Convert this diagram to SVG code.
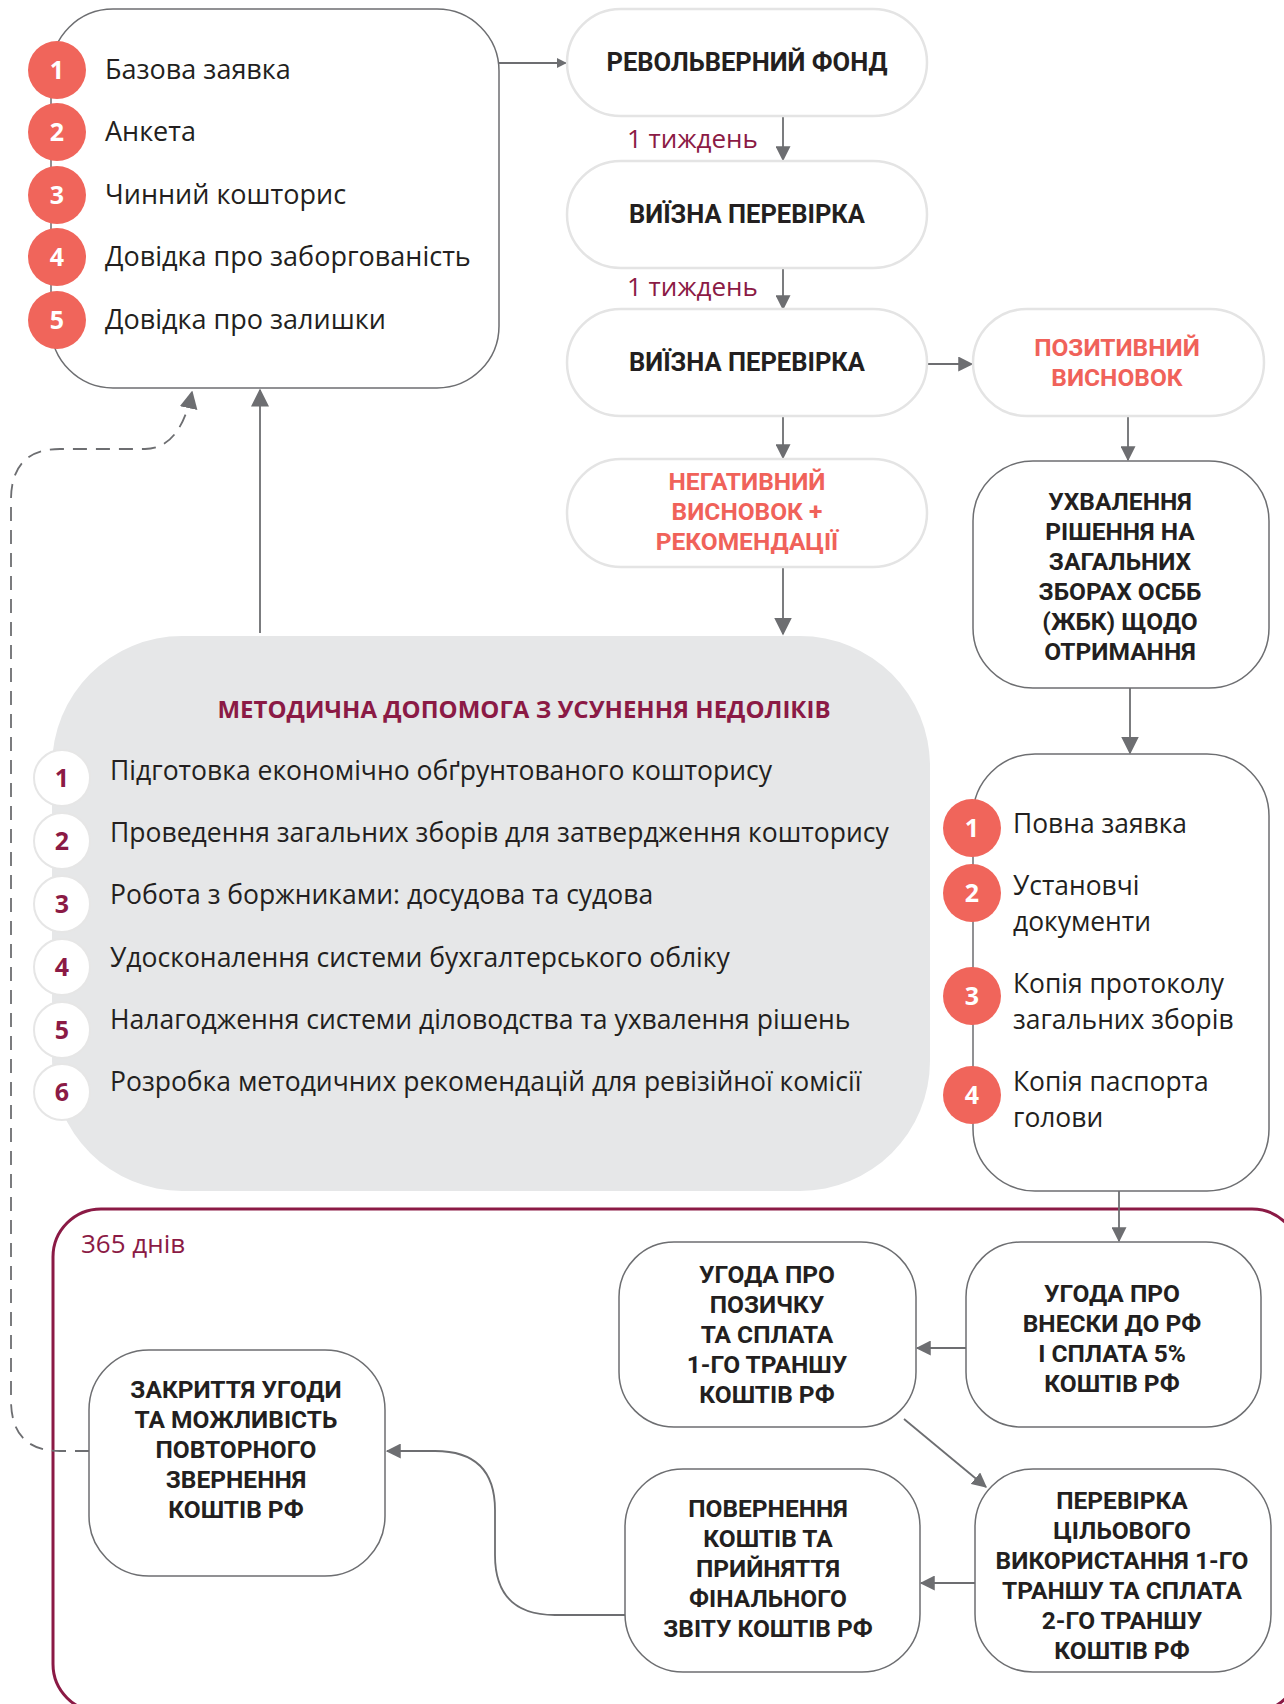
<svg xmlns="http://www.w3.org/2000/svg" width="1284" height="1704" viewBox="0 0 1284 1704">
<defs>
<style>
text{font-family:"Open Sans","Noto Sans",sans-serif;}
.box{fill:#fff;stroke:#6d6e71;stroke-width:1.5;}
.pill{fill:#fff;stroke:#e4e4e4;stroke-width:2.5;}
.bt{font-family:Roboto,"Open Sans",sans-serif;font-size:24.5px;font-weight:700;fill:#231f20;text-anchor:middle;}
.pt{font-family:Roboto,"Open Sans",sans-serif;font-size:25.5px;font-weight:700;fill:#231f20;text-anchor:middle;}
.ct{font-family:Roboto,"Open Sans",sans-serif;font-size:24.5px;font-weight:700;fill:#f0625a;text-anchor:middle;}
.rt{font-size:27px;fill:#231f20;}
.rt2{font-size:26.4px;fill:#231f20;}
.mt{font-size:26.5px;fill:#231f20;}
.red{fill:#f0655b;}
.num{font-size:25px;font-weight:700;fill:#fff;text-anchor:middle;}
.wc{fill:#fff;stroke:#e6e6e6;stroke-width:2;}
.mnum{font-size:25px;font-weight:700;fill:#8b1a45;text-anchor:middle;}
.lbl{font-size:26px;fill:#8b1a45;}
.con{fill:none;stroke:#6d6e71;stroke-width:1.8;}
</style>
<marker id="ah" viewBox="0 0 12 12" refX="11" refY="6" markerWidth="15" markerHeight="15" markerUnits="userSpaceOnUse" orient="auto"><path d="M0,0 L12,6 L0,12 z" fill="#6d6e71"/></marker>
<marker id="ahs" viewBox="0 0 12 12" refX="11" refY="6" markerWidth="10" markerHeight="10" markerUnits="userSpaceOnUse" orient="auto"><path d="M0,0 L12,6 L0,12 z" fill="#6d6e71"/></marker>
<marker id="ahl" viewBox="0 0 12 12" refX="11" refY="6" markerWidth="18" markerHeight="18" markerUnits="userSpaceOnUse" orient="auto"><path d="M0,0 L12,6 L0,12 z" fill="#6d6e71"/></marker>
</defs>
<rect width="1284" height="1704" fill="#fff"/>

<g id="container365">
<rect x="53" y="1209" width="1247" height="503" rx="48" fill="none" stroke="#8b1a45" stroke-width="3"/>
<text class="lbl" x="81" y="1253">365 днів</text>
</g>

<g id="connectors">
<path class="con" d="M499 63 H566" marker-end="url(#ahs)"/>
<path class="con" d="M783 116 V160" marker-end="url(#ah)"/>
<path class="con" d="M783 268 V309" marker-end="url(#ah)"/>
<path class="con" d="M927 364 H972" marker-end="url(#ah)"/>
<path class="con" d="M783 416 V458" marker-end="url(#ah)"/>
<path class="con" d="M1128 416 V460" marker-end="url(#ah)"/>
<path class="con" d="M783 567 V634" marker-end="url(#ahl)"/>
<path class="con" d="M1130 688 V753" marker-end="url(#ahl)"/>
<path class="con" d="M260 633 V390" marker-end="url(#ahl)"/>
<path class="con" d="M89 1451 H60 Q11 1451 11 1400 V500 Q11 449 60 449 H145 Q180 449 192 392" stroke-dasharray="14 9" marker-end="url(#ahl)"/>
<path class="con" d="M1119 1191 V1241" marker-end="url(#ah)"/>
<path class="con" d="M966 1348 H917" marker-end="url(#ah)"/>
<path class="con" d="M904 1419 L986 1487" marker-end="url(#ah)"/>
<path class="con" d="M975 1583 H921" marker-end="url(#ah)"/>
<path class="con" d="M625 1615 H555 Q495 1615 495 1555 V1510 Q495 1451 435 1451 H387" marker-end="url(#ah)"/>
<text class="lbl" x="627" y="148">1 тиждень</text>
<text class="lbl" x="627" y="296">1 тиждень</text>
</g>

<g id="base-application">
<rect class="box" x="51" y="9" width="448" height="379" rx="62"/>
<circle class="red" cx="57" cy="70" r="29"/><text class="num" x="57" y="79">1</text>
<circle class="red" cx="57" cy="132" r="29"/><text class="num" x="57" y="141">2</text>
<circle class="red" cx="57" cy="195" r="29"/><text class="num" x="57" y="204">3</text>
<circle class="red" cx="57" cy="257" r="29"/><text class="num" x="57" y="266">4</text>
<circle class="red" cx="57" cy="320" r="29"/><text class="num" x="57" y="329">5</text>
<text class="rt" x="105" y="79">Базова заявка</text>
<text class="rt" x="105" y="141">Анкета</text>
<text class="rt" x="105" y="204">Чинний кошторис</text>
<text class="rt" x="105" y="266">Довідка про заборгованість</text>
<text class="rt" x="105" y="329">Довідка про залишки</text>
</g>

<g id="revolving-fund">
<rect class="pill" x="567" y="9" width="360" height="107" rx="53.5"/>
<text class="pt" x="747" y="71">РЕВОЛЬВЕРНИЙ ФОНД</text>
</g>

<g id="site-check-1">
<rect class="pill" x="567" y="161" width="360" height="107" rx="53.5"/>
<text class="pt" x="747" y="223">ВИЇЗНА ПЕРЕВІРКА</text>
</g>

<g id="site-check-2">
<rect class="pill" x="567" y="309" width="360" height="107" rx="53.5"/>
<text class="pt" x="747" y="371">ВИЇЗНА ПЕРЕВІРКА</text>
</g>

<g id="positive">
<rect class="pill" x="973" y="309" width="291" height="107" rx="53.5"/>
<text class="ct" x="1117" y="356">ПОЗИТИВНИЙ</text>
<text class="ct" x="1117" y="386">ВИСНОВОК</text>
</g>

<g id="negative">
<rect class="pill" x="567" y="459" width="360" height="108" rx="54"/>
<text class="ct" x="747" y="490">НЕГАТИВНИЙ</text>
<text class="ct" x="747" y="520">ВИСНОВОК +</text>
<text class="ct" x="747" y="550">РЕКОМЕНДАЦІЇ</text>
</g>

<g id="decision">
<rect class="box" x="973" y="461" width="296" height="227" rx="60"/>
<text class="bt" x="1120" y="510">УХВАЛЕННЯ</text>
<text class="bt" x="1120" y="540">РІШЕННЯ НА</text>
<text class="bt" x="1120" y="570">ЗАГАЛЬНИХ</text>
<text class="bt" x="1120" y="600">ЗБОРАХ ОСББ</text>
<text class="bt" x="1120" y="630">(ЖБК) ЩОДО</text>
<text class="bt" x="1120" y="660">ОТРИМАННЯ</text>
</g>

<g id="methodical-help">
<rect x="52" y="636" width="878" height="555" rx="130" fill="#e6e7e8"/>
<text x="524" y="718" font-size="24" font-weight="700" fill="#8b1a45" text-anchor="middle">МЕТОДИЧНА ДОПОМОГА З УСУНЕННЯ НЕДОЛІКІВ</text>
<circle class="wc" cx="62" cy="778" r="28"/><text class="mnum" x="62" y="787">1</text>
<circle class="wc" cx="62" cy="841" r="28"/><text class="mnum" x="62" y="850">2</text>
<circle class="wc" cx="62" cy="904" r="28"/><text class="mnum" x="62" y="913">3</text>
<circle class="wc" cx="62" cy="967" r="28"/><text class="mnum" x="62" y="976">4</text>
<circle class="wc" cx="62" cy="1030" r="28"/><text class="mnum" x="62" y="1039">5</text>
<circle class="wc" cx="62" cy="1092" r="28"/><text class="mnum" x="62" y="1101">6</text>
<text class="mt" x="110" y="780">Підготовка економічно обґрунтованого кошторису</text>
<text class="mt" x="110" y="842">Проведення загальних зборів для затвердження кошторису</text>
<text class="mt" x="110" y="904">Робота з боржниками: досудова та судова</text>
<text class="mt" x="110" y="967">Удосконалення системи бухгалтерського обліку</text>
<text class="mt" x="110" y="1029">Налагодження системи діловодства та ухвалення рішень</text>
<text class="mt" x="110" y="1091">Розробка методичних рекомендацій для ревізійної комісії</text>
</g>

<g id="full-application">
<rect class="box" x="973" y="754" width="296" height="437" rx="62"/>
<circle class="red" cx="972" cy="828" r="29"/><text class="num" x="972" y="837">1</text>
<circle class="red" cx="972" cy="893" r="29"/><text class="num" x="972" y="902">2</text>
<circle class="red" cx="972" cy="996" r="29"/><text class="num" x="972" y="1005">3</text>
<circle class="red" cx="972" cy="1095" r="29"/><text class="num" x="972" y="1104">4</text>
<text class="rt2" x="1013" y="833">Повна заявка</text>
<text class="rt2" x="1013" y="895">Установчі</text>
<text class="rt2" x="1013" y="931">документи</text>
<text class="rt2" x="1013" y="993">Копія протоколу</text>
<text class="rt2" x="1013" y="1029">загальних зборів</text>
<text class="rt2" x="1013" y="1091">Копія паспорта</text>
<text class="rt2" x="1013" y="1127">голови</text>
</g>

<g id="contribution-agreement">
<rect class="box" x="966" y="1242" width="295" height="185" rx="55"/>
<text class="bt" x="1112" y="1302">УГОДА ПРО</text>
<text class="bt" x="1112" y="1332">ВНЕСКИ ДО РФ</text>
<text class="bt" x="1112" y="1362">І СПЛАТА 5%</text>
<text class="bt" x="1112" y="1392">КОШТІВ РФ</text>
</g>

<g id="loan-agreement">
<rect class="box" x="619" y="1242" width="297" height="185" rx="55"/>
<text class="bt" x="767" y="1283">УГОДА ПРО</text>
<text class="bt" x="767" y="1313">ПОЗИЧКУ</text>
<text class="bt" x="767" y="1343">ТА СПЛАТА</text>
<text class="bt" x="767" y="1373">1-ГО ТРАНШУ</text>
<text class="bt" x="767" y="1403">КОШТІВ РФ</text>
</g>

<g id="target-use-check">
<rect class="box" x="975" y="1469" width="296" height="203" rx="58"/>
<text class="bt" x="1122" y="1509">ПЕРЕВІРКА</text>
<text class="bt" x="1122" y="1539">ЦІЛЬОВОГО</text>
<text class="bt" x="1122" y="1569">ВИКОРИСТАННЯ 1-ГО</text>
<text class="bt" x="1122" y="1599">ТРАНШУ ТА СПЛАТА</text>
<text class="bt" x="1122" y="1629">2-ГО ТРАНШУ</text>
<text class="bt" x="1122" y="1659">КОШТІВ РФ</text>
</g>

<g id="return-funds">
<rect class="box" x="625" y="1469" width="295" height="203" rx="58"/>
<text class="bt" x="768" y="1517">ПОВЕРНЕННЯ</text>
<text class="bt" x="768" y="1547">КОШТІВ ТА</text>
<text class="bt" x="768" y="1577">ПРИЙНЯТТЯ</text>
<text class="bt" x="768" y="1607">ФІНАЛЬНОГО</text>
<text class="bt" x="768" y="1637">ЗВІТУ КОШТІВ РФ</text>
</g>

<g id="closing">
<rect class="box" x="89" y="1350" width="296" height="226" rx="60"/>
<text class="bt" x="236" y="1398">ЗАКРИТТЯ УГОДИ</text>
<text class="bt" x="236" y="1428">ТА МОЖЛИВІСТЬ</text>
<text class="bt" x="236" y="1458">ПОВТОРНОГО</text>
<text class="bt" x="236" y="1488">ЗВЕРНЕННЯ</text>
<text class="bt" x="236" y="1518">КОШТІВ РФ</text>
</g>
</svg>
